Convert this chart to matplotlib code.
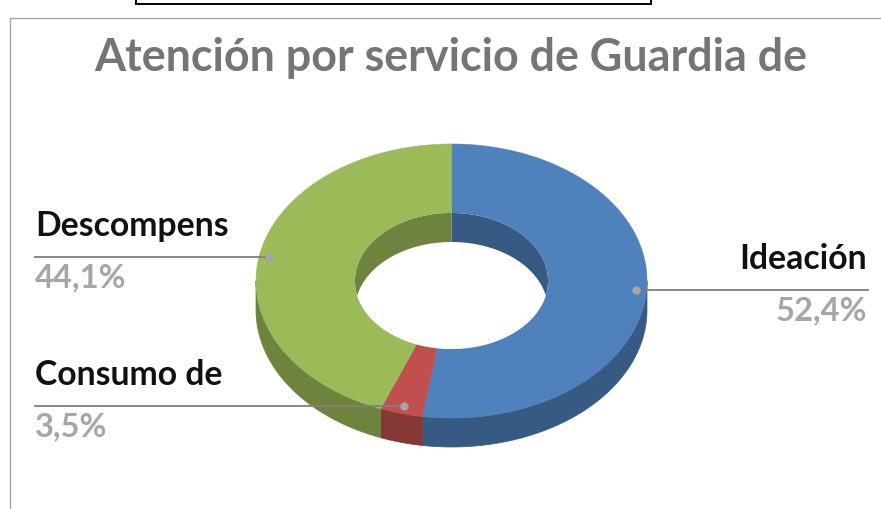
import numpy as np
import matplotlib
matplotlib.use("Agg")
import matplotlib.pyplot as plt
from matplotlib.patches import Polygon, Rectangle

labels = ["Ideación", "Consumo de", "Descompens"]
values = [52.4, 3.5, 44.1]
value_labels = ["52,4%", "3,5%", "44,1%"]
top_colors = ["#4F81BD", "#C0504D", "#9BBB59"]
side_colors = ["#375A84", "#863836", "#6D833E"]
inner_colors = ["#375A84", "#863836", "#6D833E"]
title = "Atención por servicio de Guardia de"

W, H = 881, 509
fig = plt.figure(figsize=(W / 100, H / 100), dpi=100)
ax = fig.add_axes([0, 0, 1, 1])
ax.set_xlim(0, W)
ax.set_ylim(H, 0)
ax.axis("off")
FONT = "Lato"

cx, cy = 451.5, 281
rx, ry = 195.5, 137
irx, iry = 96.5, 68
depth = 29

def pt(a, rxx, ryy, dy=0):
    return np.column_stack([cx + rxx * np.sin(a), cy - ryy * np.cos(a) + dy])

bounds = np.cumsum([0] + values) / sum(values) * 2 * np.pi

# outer side wall
for i in range(3):
    a0, a1 = bounds[i], bounds[i + 1]
    lo, hi = max(a0, np.pi / 2), min(a1, 3 * np.pi / 2)
    if lo < hi:
        a = np.linspace(lo, hi, 200)
        ax.add_patch(Polygon(np.vstack([pt(a, rx, ry), pt(a[::-1], rx, ry, depth)]),
                             closed=True, fc=side_colors[i], ec=side_colors[i], lw=0.5, zorder=2))

# top faces
for i in range(3):
    a = np.linspace(bounds[i], bounds[i + 1], 300)
    ax.add_patch(Polygon(np.vstack([pt(a, rx, ry), pt(a[::-1], irx, iry)]),
                         closed=True, fc=top_colors[i], ec=top_colors[i], lw=0.4, zorder=3))

# hole: white, then the far inner wall
aa = np.linspace(0, 2 * np.pi, 400)
ax.add_patch(Polygon(pt(aa, irx, iry), closed=True, fc="white", ec="none", zorder=4))
for i in range(3):
    far = [(bounds[i], min(bounds[i + 1], np.pi / 2)),
           (max(bounds[i], 3 * np.pi / 2), bounds[i + 1])]
    for lo, hi in far:
        if lo < hi:
            a = np.linspace(lo, hi, 200)
            upper = pt(a, irx, iry)
            lower = pt(a, irx, iry, depth)
            hole_lower = cy + iry * np.sqrt(np.clip(1 - ((upper[:, 0] - cx) / irx) ** 2, 0, 1))
            lower[:, 1] = np.minimum(lower[:, 1], hole_lower)
            ax.add_patch(Polygon(np.vstack([upper, lower[::-1]]), closed=True,
                                 fc=inner_colors[i], ec="none", zorder=5))

# frame
ax.plot([9.5, 9.5], [17.5, H], color="#A6A6A6", lw=1, zorder=1)
ax.plot([9.5, 881], [17.5, 17.5], color="#A6A6A6", lw=1, zorder=1)
ax.add_patch(Rectangle((136, -5), 515, 8.5, fc="white", ec="black", lw=1.4, zorder=1))

# title
ax.text(451, 58, title, ha="center", va="center", fontsize=32.3, fontweight="bold",
        color="#757575", family=FONT, zorder=6)

# leaders and labels
GREY = "#7F7F7F"
leaders = [((636, 290), (868, 290)), ((404, 406), (35, 406)), ((269, 257), (35, 257))]
name_pos = [(867, 259, "right"), (35, 375, "left"), (35, 226, "left")]
val_pos = [(867, 311, "right"), (35, 427, "left"), (35, 278, "left")]
for i in range(3):
    (x0, y0), (x1, y1) = leaders[i]
    ax.plot([x0, x1], [y0, y1], color=GREY, lw=1.3, zorder=7)
    ax.plot([x0], [y0], "o", ms=5, color="#A6A6A6", zorder=8)
    ax.text(name_pos[i][0], name_pos[i][1], labels[i], ha=name_pos[i][2], va="center",
            fontsize=24.3, fontweight="bold", color="#111111", family=FONT, zorder=9)
    ax.text(val_pos[i][0], val_pos[i][1], value_labels[i], ha=val_pos[i][2], va="center",
            fontsize=23.6, fontweight="bold", color="#A6A6A6", family=FONT, zorder=9)

fig.savefig("out.png", dpi=100)
